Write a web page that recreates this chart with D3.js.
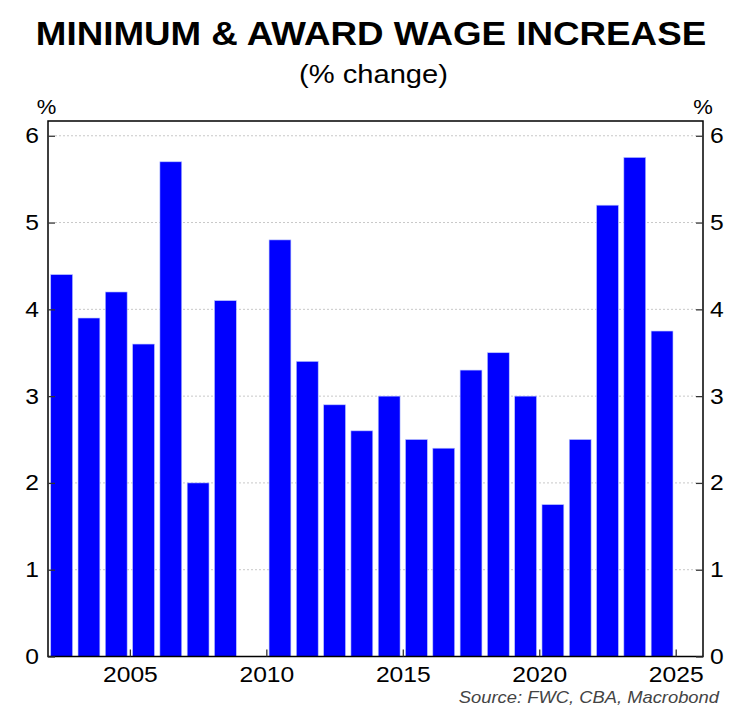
<!DOCTYPE html>
<html>
<head>
<meta charset="utf-8">
<script src="https://cdn.jsdelivr.net/npm/d3@7"></script>
<style>
  body { margin: 0; background: #fff; }
  svg { display: block; font-family: "Liberation Sans", Arial, sans-serif; }
</style>
</head>
<body>
<div id="chart"></div>
<script>
// data
var years = [2002, 2003, 2004, 2005, 2006, 2007, 2008, 2009, 2010, 2011, 2012, 2013,
             2014, 2015, 2016, 2017, 2018, 2019, 2020, 2021, 2022, 2023, 2024];
var wage_increase = [4.4, 3.9, 4.2, 3.6, 5.7, 2.0, 4.1, 0, 4.8, 3.4, 2.9, 2.6,
                     3.0, 2.5, 2.4, 3.3, 3.5, 3.0, 1.75, 2.5, 5.2, 5.75, 3.75];
var x_ticks = [2005, 2010, 2015, 2020, 2025];
var y_ticks = [0, 1, 2, 3, 4, 5, 6];

var W = 736, H = 714;
var margin = {top: 121, bottom: 57.5, left: 48, right: 33};
var width = W - margin.left - margin.right,
    height = H - margin.top - margin.bottom;

var svg = d3.select("#chart").append("svg")
    .attr("width", W)
    .attr("height", H);

var g = svg.append("g")
    .attr("transform", "translate(" + margin.left + "," + margin.top + ")");

var xScale = d3.scaleLinear().domain([2002, 2026]).range([0, width]);
var yScale = d3.scaleLinear().domain([0, 6.17]).range([height, 0]);

// the reference font is a bit wider than Liberation Sans, so stretch texts
function stretch(sel, k) {
  sel.each(function() {
    var n = this.getComputedTextLength();
    d3.select(this).attr("textLength", n * k).attr("lengthAdjust", "spacingAndGlyphs");
  });
}

// gridlines
g.append("g").selectAll("line")
    .data(y_ticks.filter(function(d) { return d > 0; }))
  .enter().append("line")
    .attr("x1", 7).attr("x2", width - 7)
    .attr("y1", function(d) { return yScale(d); })
    .attr("y2", function(d) { return yScale(d); })
    .style("stroke", "#c8c8c8")
    .style("stroke-width", 1)
    .style("stroke-dasharray", "2,2");

// bars
g.append("g").selectAll("rect")
    .data(years)
  .enter().append("rect")
    .attr("x", function(d) { return xScale(d + 0.1); })
    .attr("width", xScale(2002.9) - xScale(2002.1))
    .attr("y", function(d, i) { return yScale(wage_increase[i]); })
    .attr("height", function(d, i) { return height - yScale(wage_increase[i]); })
    .style("fill", "#0000ff")
    .style("stroke", "#b8c4ff")
    .style("stroke-width", 0.6);

// frame
g.append("path")
    .attr("d", "M0,0H" + width + "V" + height + "H0Z")
    .style("fill", "none")
    .style("stroke", "#000")
    .style("stroke-width", 1.5);

// axes with inward ticks
var yLeft = d3.axisLeft(yScale).tickValues(y_ticks).tickSize(-7).tickPadding(9)
    .tickFormat(d3.format("d"));
var yRight = d3.axisRight(yScale).tickValues(y_ticks).tickSize(-7).tickPadding(7)
    .tickFormat(d3.format("d"));
var xBottom = d3.axisBottom(xScale).tickValues(x_ticks).tickSize(-7).tickPadding(10)
    .tickFormat(d3.format("d"));

function styleAxis(sel) {
  sel.select(".domain").remove();
  sel.selectAll(".tick line").style("stroke", "#333").style("stroke-width", 1.3);
  sel.selectAll(".tick text")
      .style("font-family", "Liberation Sans, Arial, sans-serif")
      .style("font-size", "22px")
      .style("fill", "#000")
      .call(stretch, 1.12);
}

g.append("g").call(yLeft).call(styleAxis);
g.append("g").attr("transform", "translate(" + width + ",0)").call(yRight).call(styleAxis);
g.append("g").attr("transform", "translate(0," + height + ")").call(xBottom).call(styleAxis);

// unit labels
svg.append("text").attr("x", 46.5).attr("y", 114).attr("text-anchor", "middle")
    .style("font-size", "20px").text("%").call(stretch, 1.1);
svg.append("text").attr("x", 703).attr("y", 114).attr("text-anchor", "middle")
    .style("font-size", "20px").text("%").call(stretch, 1.1);

// titles
svg.append("text")
    .attr("x", 371).attr("y", 45)
    .attr("text-anchor", "middle")
    .style("font-size", "33.5px")
    .style("font-weight", "bold")
    .text("MINIMUM & AWARD WAGE INCREASE")
    .call(stretch, 1.097);

svg.append("text")
    .attr("x", 373.5).attr("y", 83)
    .attr("text-anchor", "middle")
    .style("font-size", "26px")
    .text("(% change)")
    .call(stretch, 1.12);

// source
svg.append("text")
    .attr("x", 719).attr("y", 703)
    .attr("text-anchor", "end")
    .style("font-size", "17px")
    .style("font-style", "italic")
    .style("fill", "#444")
    .text("Source: FWC, CBA, Macrobond")
    .call(stretch, 1.08);
</script>
</body>
</html>
